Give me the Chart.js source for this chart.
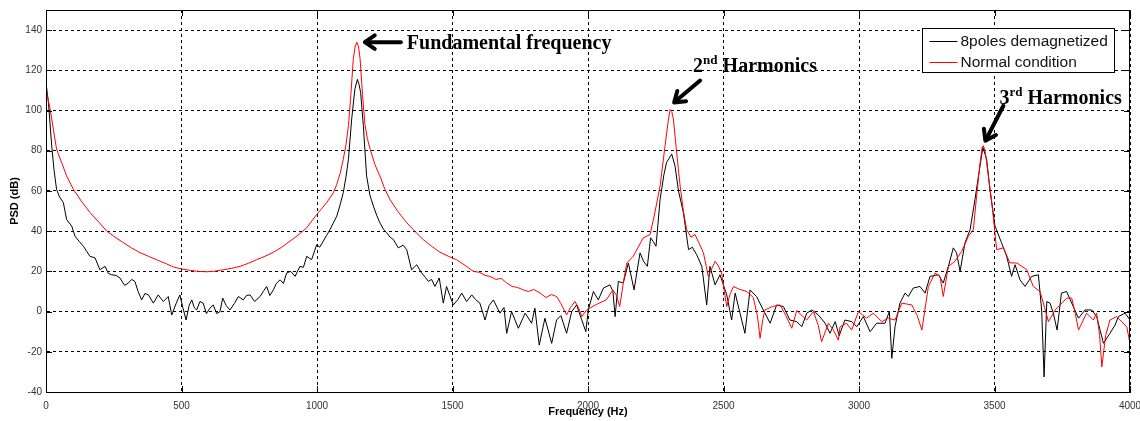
<!DOCTYPE html>
<html>
<head>
<meta charset="utf-8">
<title>PSD spectrum</title>
<script src="https://cdn.jsdelivr.net/npm/chart.js@4.4.1/dist/chart.umd.min.js"></script>
<style>
  html, body { margin: 0; padding: 0; background: #fff; }
  #wrap { width: 1140px; height: 421px; position: relative; }
</style>
</head>
<body>
<div id="wrap"><canvas id="psdChart"></canvas></div>
<script>
// Frequency (Hz) / PSD (dB) of the demagnetized machine
const demagFreq = [0, 9, 21, 30, 39, 50, 64, 76, 95, 107, 122, 138, 150, 162, 181, 199, 218, 230, 242, 258, 273, 290, 304, 316, 328, 340, 353, 365, 378, 396, 414, 433, 451, 464, 480, 494, 505, 517, 528, 538, 547, 556, 568, 580, 592, 605, 617, 630, 642, 652, 665, 679, 695, 710, 728, 740, 753, 770, 790, 802, 814, 826, 839, 850, 864, 876, 888, 903, 919, 937, 950, 962, 980, 999, 1010, 1023, 1036, 1048, 1060, 1073, 1085, 1097, 1107, 1116, 1128, 1140, 1149, 1155, 1161, 1171, 1183, 1195, 1208, 1220, 1232, 1245, 1257, 1270, 1282, 1300, 1318, 1331, 1349, 1368, 1386, 1400, 1411, 1423, 1435, 1451, 1466, 1478, 1490, 1503, 1520, 1534, 1552, 1571, 1585, 1601, 1620, 1635, 1651, 1675, 1690, 1700, 1718, 1743, 1768, 1792, 1804, 1820, 1841, 1866, 1884, 1900, 1921, 1940, 1958, 1977, 1992, 2001, 2020, 2038, 2057, 2081, 2092, 2100, 2112, 2130, 2149, 2170, 2192, 2205, 2219, 2231, 2240, 2251, 2266, 2280, 2290, 2309, 2321, 2334, 2352, 2371, 2385, 2401, 2420, 2438, 2450, 2469, 2487, 2512, 2530, 2543, 2561, 2579, 2598, 2622, 2647, 2672, 2696, 2721, 2745, 2770, 2789, 2807, 2826, 2850, 2875, 2893, 2912, 2927, 2948, 2973, 2992, 3016, 3041, 3065, 3096, 3112, 3121, 3133, 3151, 3170, 3182, 3200, 3225, 3244, 3262, 3293, 3311, 3330, 3348, 3360, 3373, 3391, 3410, 3428, 3441, 3457, 3471, 3483, 3502, 3526, 3545, 3563, 3576, 3594, 3613, 3637, 3662, 3674, 3683, 3693, 3705, 3717, 3731, 3747, 3766, 3785, 3810, 3834, 3859, 3877, 3902, 3926, 3945, 3957, 3982, 4000];
const demagPsd = [114, 104, 82.5, 70, 60.8, 57, 54.2, 45.8, 42.5, 37.5, 35, 32.5, 30, 27.5, 26.7, 20.8, 22.5, 19, 18.3, 18, 16.7, 13, 14.2, 16, 15, 10, 5.8, 9, 8.3, 4.2, 8.3, 5, 7.5, -1.7, 4, 8.3, 2, -4.2, 3, 5.8, 2, 0.8, 5, 4.2, -1, 1.7, 3.3, -1, 0, 6.7, 3, 0.8, 4, 7.5, 5.8, 8, 8.3, 5, 7.5, 10, 12.5, 8, 10.8, 14, 15.8, 14, 19.2, 20, 17.5, 22.5, 22, 27.5, 25.8, 33.3, 32, 35, 38, 40.8, 44, 47.5, 53, 59.2, 67, 75.8, 95.8, 110.8, 115.5, 113, 109, 92.5, 67.5, 58, 52.5, 48, 44.2, 41, 39.2, 37, 35.8, 31.7, 33, 30.8, 20.8, 23.3, 19.2, 17, 15, 16, 12.5, 16.7, 4.2, 12.5, 8, 3.3, 6, 9.2, 5, 8.3, 6, 4.2, -4.2, 3, 5.8, -0.8, 2, -10.8, 0, -8.3, -0.8, -5.8, 1.7, -16.7, -3.3, -15.8, -4.2, -2, -10.8, 0, 3.3, -4.2, -10, 0.8, 10, 5.8, 11.7, 13.3, 10, -2.5, 15, 14.2, 24.2, 10.8, 29.2, 25, 22.5, 36.7, 35, 32.5, 55.8, 68, 74.2, 78.3, 72.5, 60, 49.2, 30.8, 32, 28.3, 22.5, 3.3, 22.5, 13.3, 18.3, 8.3, -4.2, 9.2, -0.8, -10.8, 10.8, 7.5, 0.8, -5.8, 3.3, 2.5, -4.2, -5, -7.5, -0.8, 0.8, -1.7, -5.8, -10.8, -5, -12, -4.2, -5, -7.5, -2.5, -10, -5.8, -5.8, 0, -23.3, -7.5, 4.2, 9.2, 7.5, 11.7, 12.5, 9.2, 17.5, 18.3, 14.2, 22.5, 31.7, 29.2, 20, 34.2, 40.8, 55.8, 67.5, 81.7, 75.8, 60.8, 42.5, 34.2, 27.5, 17.5, 23.3, 15.8, 12.5, 17.5, 18.3, 0.8, -32.5, 5, 4.2, -0.8, -9.2, 9.2, 10, 4.2, -3.3, 0.8, 0.8, -2.5, -15.8, -10.8, -6.7, -2.5, -0.8, -4.2];

// Frequency (Hz) / PSD (dB) in normal condition
const normalFreq = [0, 15, 39, 76, 101, 130, 162, 195, 224, 255, 285, 315, 347, 378, 408, 440, 470, 500, 532, 562, 593, 624, 654, 685, 716, 747, 777, 808, 839, 870, 900, 930, 962, 999, 1036, 1060, 1073, 1086, 1097, 1107, 1116, 1125, 1134, 1141, 1147, 1153, 1159, 1168, 1177, 1186, 1196, 1214, 1232, 1250, 1269, 1300, 1331, 1362, 1392, 1423, 1454, 1485, 1515, 1546, 1577, 1600, 1620, 1638, 1660, 1680, 1700, 1720, 1740, 1761, 1780, 1800, 1823, 1845, 1865, 1884, 1900, 1921, 1935, 1952, 1965, 1977, 1995, 2030, 2067, 2092, 2105, 2117, 2130, 2143, 2167, 2185, 2204, 2229, 2245, 2266, 2282, 2297, 2303, 2309, 2315, 2328, 2340, 2352, 2364, 2380, 2395, 2410, 2426, 2444, 2469, 2480, 2493, 2503, 2512, 2525, 2537, 2560, 2586, 2610, 2625, 2635, 2645, 2653, 2680, 2709, 2730, 2752, 2770, 2807, 2832, 2850, 2862, 2887, 2905, 2924, 2930, 2954, 2973, 2998, 3028, 3053, 3084, 3108, 3133, 3158, 3195, 3215, 3232, 3256, 3281, 3299, 3311, 3330, 3354, 3379, 3404, 3422, 3434, 3447, 3455, 3459, 3465, 3471, 3490, 3508, 3533, 3557, 3582, 3619, 3643, 3668, 3685, 3699, 3724, 3767, 3785, 3798, 3810, 3840, 3865, 3877, 3888, 3896, 3910, 3926, 3951, 3988, 4000];
const normalPsd = [110.5, 100.8, 80.8, 67.5, 60.8, 55, 49.3, 44.5, 40, 37, 34.3, 31.7, 29.3, 27.5, 25.8, 24, 22.2, 21.2, 20.5, 20, 19.8, 20.1, 20.8, 21.5, 22.5, 24, 25.8, 27.5, 29.5, 32, 35, 38, 41.7, 48.3, 54.2, 59, 63.3, 69, 75.8, 83, 92.5, 108, 125.8, 132, 134, 132, 125.8, 108, 93, 86, 80.8, 73, 67.5, 61, 55.8, 49.5, 44.2, 39.8, 35.8, 32.5, 29.5, 27.5, 25.8, 23, 20, 19.5, 18, 17.5, 16, 16.5, 14.2, 12.5, 12, 10.8, 10, 11, 9.2, 7, 8.5, 7.5, 4, -1.7, 2, 5, 2, -2.5, 0.8, 3.5, 5.8, 10.8, 8, 2.5, 14, 24.2, 27.5, 32, 36.7, 38.3, 48, 62.5, 80, 95.8, 100.5, 99.5, 95.8, 78, 62.5, 50, 40.8, 37, 38.3, 34, 29.2, 17.5, 25, 23, 19.2, 10, 2.5, 9, 12.5, 11, 10, 7, -2, -13.3, -4, 0.8, 2.5, 3.3, -2, -8.3, 0.5, -4.2, 0, -7, -15, -5.8, -9, -14.2, -7.5, -5.8, -9.2, 0, -3.3, -0.8, -5, -3.3, -4.2, 4.2, 3.3, -2, -9.2, 12.5, 19.2, 17.5, 7.5, 22.5, 25, 30, 37.5, 40.8, 57.5, 74.2, 82, 82.5, 80, 74.2, 54.2, 30.8, 31.7, 24.2, 24.2, 20.8, 12.5, 10, 2, -5, 0.8, 6.7, 6.7, -1, -9.2, -0.8, -4.2, -0.8, -12, -27.5, -12, -4.2, -2.5, -7.5, -15.8];

const xTicks = [0, 500, 1000, 1500, 2000, 2500, 3000, 3500, 4000];
const yTicks = [-40, -20, 0, 20, 40, 60, 80, 100, 120, 140];

const seriesNames = ['8poles demagnetized', 'Normal condition'];
const seriesColors = ['#000000', '#ff0000'];

// callouts pointing at the harmonic peaks of the normal spectrum
const callouts = [
  { near: 1150, lead: '', sup: '', text: 'Fundamental frequency', tip: [8, 0], tail: [36, 0], label: [42, 7] },
  { near: 2300, lead: '2', sup: 'nd', text: ' Harmonics', tip: [4, -7], tail: [26, -22], label: [19, -31] },
  { near: 3460, lead: '3', sup: 'rd', text: ' Harmonics', tip: [2, -5], tail: [18, -35], label: [14, -37] }
];

const toPoints = (xs, ys) => xs.map((f, i) => ({ x: f, y: ys[i] }));

// highest point of the normal spectrum within 100 Hz of a frequency
function peakNear(f) {
  let best = -1;
  normalFreq.forEach((v, i) => {
    if (Math.abs(v - f) <= 100 && (best < 0 || normalPsd[i] > normalPsd[best])) best = i;
  });
  return { x: normalFreq[best], y: normalPsd[best] };
}

function arrow(ctx, x0, y0, x1, y1) {
  const a = Math.atan2(y1 - y0, x1 - x0);
  ctx.lineWidth = 4;
  ctx.lineCap = 'round';
  ctx.lineJoin = 'round';
  ctx.beginPath();
  ctx.moveTo(x0, y0);
  ctx.lineTo(x1 - 3 * Math.cos(a), y1 - 3 * Math.sin(a));
  ctx.stroke();
  ctx.beginPath();
  ctx.moveTo(x1 - 12 * Math.cos(a - 0.6), y1 - 12 * Math.sin(a - 0.6));
  ctx.lineTo(x1, y1);
  ctx.lineTo(x1 - 12 * Math.cos(a + 0.6), y1 - 12 * Math.sin(a + 0.6));
  ctx.stroke();
}

const boxPlugin = {
  id: 'boxPlugin',
  afterDraw(chart) {
    const { ctx, chartArea: a, scales: { x, y } } = chart;
    ctx.save();

    // solid frame plus inward tick marks on all four sides
    ctx.strokeStyle = '#000';
    ctx.lineWidth = 1;
    ctx.strokeRect(a.left + 0.5, a.top + 0.5, a.right - a.left - 1, a.bottom - a.top);
    ctx.beginPath();
    xTicks.forEach(t => {
      const px = Math.round(x.getPixelForValue(t)) + 0.5;
      ctx.moveTo(px, a.bottom); ctx.lineTo(px, a.bottom - 6);
      ctx.moveTo(px, a.top); ctx.lineTo(px, a.top + 6);
    });
    yTicks.forEach(t => {
      const py = Math.round(y.getPixelForValue(t)) + 0.5;
      ctx.moveTo(a.left, py); ctx.lineTo(a.left + 6, py);
      ctx.moveTo(a.right, py); ctx.lineTo(a.right - 6, py);
    });
    ctx.stroke();

    // legend
    const lx = 922.5, ly = 28.5, lw = 192, lh = 44;
    ctx.fillStyle = '#fff';
    ctx.fillRect(lx, ly, lw, lh);
    ctx.strokeStyle = '#000';
    ctx.strokeRect(lx, ly, lw, lh);
    ctx.font = '15.5px "Liberation Sans", Arial, sans-serif';
    ctx.textBaseline = 'middle';
    seriesNames.forEach((name, i) => {
      const ry = ly + 13 + i * 21;
      ctx.strokeStyle = seriesColors[i];
      ctx.beginPath();
      ctx.moveTo(lx + 7, ry); ctx.lineTo(lx + 35, ry);
      ctx.stroke();
      ctx.fillStyle = '#111';
      ctx.fillText(name, lx + 38, ry);
    });

    // peak callouts
    ctx.strokeStyle = '#000';
    ctx.fillStyle = '#000';
    ctx.textBaseline = 'alphabetic';
    callouts.forEach(c => {
      const p = peakNear(c.near);
      const px = x.getPixelForValue(p.x), py = y.getPixelForValue(p.y);
      const tx = px + c.tip[0], ty = py + c.tip[1];
      arrow(ctx, tx + c.tail[0], ty + c.tail[1], tx, ty);
      let cx = tx + c.label[0];
      const cy = ty + c.label[1];
      const big = 'bold 20px "Liberation Serif", "Times New Roman", serif';
      const small = 'bold 13px "Liberation Serif", "Times New Roman", serif';
      if (c.lead) {
        ctx.font = big;
        ctx.fillText(c.lead, cx, cy);
        cx += ctx.measureText(c.lead).width;
        ctx.font = small;
        ctx.fillText(c.sup, cx, cy - 8);
        cx += ctx.measureText(c.sup).width;
      }
      ctx.font = big;
      ctx.fillText(c.text, cx, cy);
    });
    ctx.restore();
  }
};

const tickFont = { family: '"Liberation Sans", Arial, sans-serif', size: 10 };
const titleFont = { family: '"Liberation Sans", Arial, sans-serif', size: 11, weight: 'bold' };

new Chart(document.getElementById('psdChart'), {
  type: 'line',
  data: {
    datasets: [{
      label: seriesNames[0],
      data: toPoints(demagFreq, demagPsd),
      borderColor: seriesColors[0],
      borderWidth: 1,
      pointRadius: 0,
      tension: 0,
      order: 1
    }, {
      label: seriesNames[1],
      data: toPoints(normalFreq, normalPsd),
      borderColor: seriesColors[1],
      borderWidth: 1,
      pointRadius: 0,
      tension: 0,
      order: 0
    }]
  },
  options: {
    animation: false,
    responsive: true,
    maintainAspectRatio: false,
    layout: { padding: { top: 10, right: 0, left: 0, bottom: 0 } },
    scales: {
      x: {
        type: 'linear',
        min: 0,
        max: 4000,
        afterBuildTicks: s => { s.ticks = xTicks.map(v => ({ value: v })); },
        afterFit: s => { s.height = 29; s.paddingLeft = 0; s.paddingRight = 10; },
        ticks: { font: tickFont, color: '#333', padding: 8, maxRotation: 0, callback: v => String(v) },
        grid: { color: '#000', lineWidth: 1, drawTicks: false },
        border: { color: '#000', dash: [3, 3] },
        title: { display: true, text: 'Frequency (Hz)', font: titleFont, color: '#000', padding: { top: 0, bottom: 2 } }
      },
      y: {
        min: -40,
        max: 150,
        afterBuildTicks: s => { s.ticks = yTicks.map(v => ({ value: v })); },
        afterFit: s => { s.width = 46; },
        ticks: { font: tickFont, color: '#333', padding: 4 },
        grid: { color: '#000', lineWidth: 1, drawTicks: false },
        border: { color: '#000', dash: [3, 3] },
        title: { display: true, text: 'PSD (dB)', font: titleFont, color: '#000', padding: { top: 8, bottom: 0 } }
      }
    },
    plugins: {
      legend: { display: false },
      tooltip: { enabled: false }
    }
  },
  plugins: [boxPlugin]
});
</script>
</body>
</html>
